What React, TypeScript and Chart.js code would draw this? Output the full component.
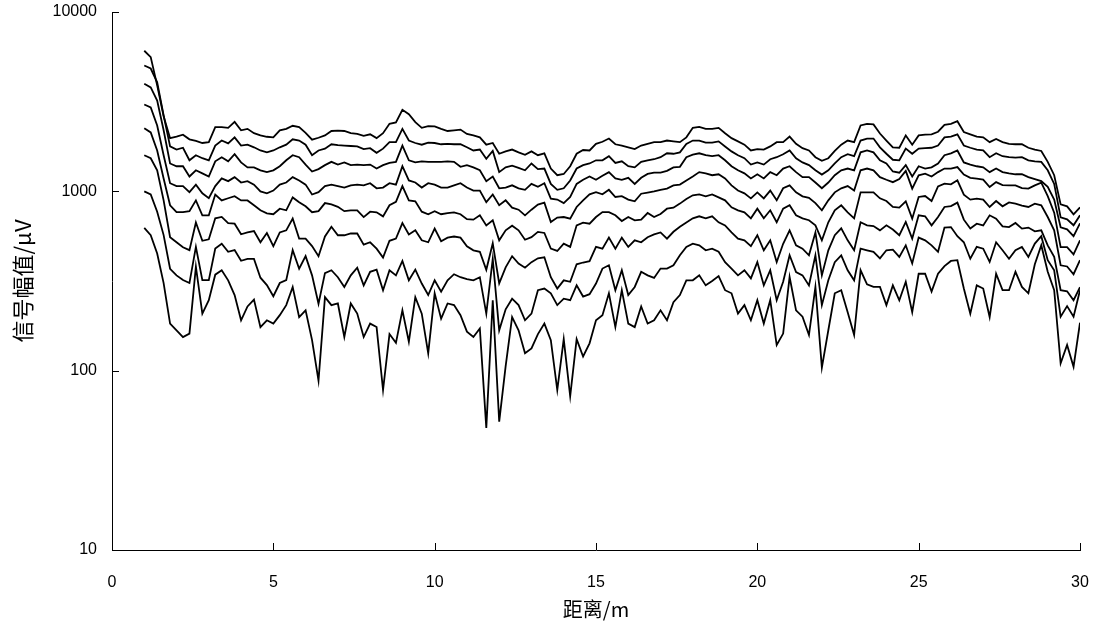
import React, { useEffect, useRef } from "react";
import { Chart, registerables } from "chart.js";

Chart.register(...registerables);

// Sampling grid along the survey line (m)
const FIRST_DISTANCE = 1;
const DISTANCE_STEP = 0.2;

const X_TICKS = [0, 5, 10, 15, 20, 25, 30];
const Y_TICKS = [10, 100, 1000, 10000];

// Signal amplitude (μV) for each receiver channel, strongest first
const SIGNAL_1 = [
  6080, 5600, 3900, 2620, 1980, 2020, 2070, 1950, 1910, 1860,
  1880, 2280, 2280, 2260, 2440, 2190, 2230, 2110, 2050, 2015,
  2000, 2190, 2230, 2320, 2280, 2120, 1940, 1990, 2050, 2170,
  2180, 2170, 2110, 2090, 2040, 2080, 1980, 2110, 2380, 2420,
  2850, 2690, 2430, 2260, 2310, 2300, 2230, 2170, 2190, 2210,
  2090, 2050, 2000, 1820, 1860, 1620, 1670, 1710, 1650, 1600,
  1670, 1590, 1630, 1340, 1230, 1250, 1380, 1620, 1700, 1690,
  1840, 1890, 1970, 1830, 1800, 1760, 1720, 1800, 1840, 1880,
  1880, 1920, 1900, 1880, 2000, 2260, 2290, 2230, 2230, 2260,
  2110, 1980, 1900, 1820, 1690, 1720, 1710, 1780, 1880, 1880,
  2020, 1840, 1740, 1690, 1550, 1480, 1530, 1680, 1820, 1920,
  1880, 2330, 2380, 2360, 2100, 1920, 1760, 1750, 2050, 1820,
  2050, 2070, 2080, 2150, 2350, 2380, 2460, 2140, 2080, 2020,
  2000, 1880, 1960, 1880, 1840, 1830, 1830, 1750, 1710, 1680,
  1460, 1230, 846, 825, 744, 814,
];

const SIGNAL_2 = [
  5030, 4840, 4050, 2650, 1780, 1710, 1750, 1490, 1590, 1530,
  1490, 1800, 1920, 1850, 2000, 1800, 1820, 1760, 1690, 1650,
  1690, 1760, 1820, 1950, 1920, 1820, 1590, 1690, 1730, 1830,
  1810, 1800, 1790, 1780, 1720, 1740, 1640, 1730, 1880, 1880,
  2230, 1920, 1860, 1820, 1870, 1860, 1830, 1840, 1830, 1830,
  1760, 1690, 1710, 1520, 1680, 1280, 1360, 1390, 1350, 1310,
  1430, 1330, 1340, 1100, 1020, 1040, 1150, 1340, 1400, 1430,
  1490, 1490, 1570, 1440, 1470, 1380, 1360, 1460, 1490, 1510,
  1550, 1630, 1620, 1650, 1840, 1920, 1920, 1870, 1870, 1900,
  1780, 1670, 1590, 1530, 1410, 1450, 1410, 1510, 1550, 1610,
  1690, 1530, 1450, 1400, 1310, 1240, 1310, 1430, 1550, 1610,
  1570, 1920, 1970, 1970, 1760, 1620, 1500, 1490, 1730, 1620,
  1730, 1740, 1750, 1800, 2000, 2020, 2080, 1800, 1750, 1710,
  1690, 1550, 1630, 1570, 1550, 1540, 1550, 1490, 1470, 1460,
  1310, 1100, 716, 698, 647, 735,
];

const SIGNAL_3 = [
  3980, 3800, 3210, 2190, 1430, 1380, 1380, 1210, 1310, 1260,
  1210, 1470, 1550, 1470, 1610, 1450, 1360, 1360, 1310, 1280,
  1310, 1380, 1490, 1590, 1550, 1410, 1290, 1330, 1400, 1460,
  1410, 1450, 1400, 1410, 1400, 1410, 1340, 1400, 1440, 1460,
  1800, 1490, 1450, 1470, 1460, 1460, 1460, 1470, 1460, 1370,
  1400, 1360, 1310, 1140, 1210, 1040, 1050, 1080, 1040, 1020,
  1100, 1060, 1110, 910, 900, 860, 930, 1100, 1160, 1210,
  1160, 1220, 1280, 1180, 1160, 1190, 1100, 1190, 1250, 1270,
  1270, 1300, 1360, 1370, 1550, 1600, 1630, 1590, 1570, 1590,
  1490, 1380, 1310, 1260, 1180, 1245, 1180, 1280, 1230, 1340,
  1380, 1280, 1200, 1200, 1120, 1040, 1120, 1230, 1310, 1340,
  1310, 1650, 1690, 1650, 1490, 1430, 1290, 1270, 1400, 1210,
  1380, 1340, 1360, 1430, 1590, 1630, 1690, 1450, 1410, 1380,
  1360, 1280, 1340, 1280, 1260, 1245, 1245, 1200, 1170, 1140,
  1060, 900, 630, 614, 562, 663,
];

const SIGNAL_4 = [
  3050, 2940, 2330, 1590, 1110, 1070, 1070, 990, 1090, 975,
  915, 1070, 1180, 1140, 1200, 1120, 1140, 1090, 1000, 975,
  1010, 1090, 1120, 1200, 1150, 1090, 960, 990, 1070, 1090,
  1070, 1050, 1080, 1090, 1080, 1110, 1040, 1050, 1110, 1090,
  1380, 1150, 1120, 1050, 1110, 1090, 1050, 1050, 1080, 1110,
  1050, 1010, 1010, 870, 960, 836, 891, 811, 790, 735,
  790, 843, 865, 674, 714, 719, 704, 818, 891, 962,
  990, 962, 1020, 930, 940, 900, 880, 970, 985, 1000,
  1020, 1035, 1080, 1090, 1150, 1210, 1280, 1260, 1230, 1245,
  1180, 1080, 1010, 975, 914, 987, 914, 1010, 891, 1040,
  1080, 987, 938, 920, 860, 784, 891, 987, 1040, 1070,
  1010, 1310, 1340, 1310, 1200, 1160, 1125, 1170, 1300, 1035,
  1228, 1256, 1210, 1280, 1340, 1340, 1366, 1240, 1190, 1177,
  1162, 1057, 1126, 1084, 1080, 1080, 1043, 1035, 1080, 1117,
  940, 760, 488, 488, 445, 533,
];

const SIGNAL_5 = [
  2245, 2130, 1690, 1180, 836, 765, 765, 775, 890, 735,
  735, 960, 890, 915, 940, 890, 890, 836, 784, 754,
  745, 800, 784, 925, 870, 825, 765, 775, 860, 846,
  820, 775, 784, 784, 718, 770, 764, 725, 836, 873,
  1070, 891, 880, 770, 745, 775, 745, 755, 764, 745,
  700, 695, 735, 646, 689, 533, 606, 643, 606, 537,
  555, 594, 586, 479, 465, 511, 490, 646, 669, 660,
  719, 766, 766, 735, 683, 719, 689, 695, 757, 719,
  748, 800, 811, 854, 906, 950, 962, 938, 962, 926,
  891, 814, 784, 764, 707, 800, 707, 784, 672, 800,
  836, 735, 707, 690, 646, 533, 672, 784, 836, 764,
  707, 987, 987, 987, 914, 883, 818, 811, 880, 704,
  930, 942, 883, 1066, 1104, 1094, 1152, 958, 899, 910,
  899, 818, 883, 825, 868, 854, 832, 818, 854, 836,
  719, 606, 387, 381, 345, 413,
];

const SIGNAL_6 = [
  1590, 1530, 1310, 890, 555, 520, 488, 470, 670, 530,
  540, 707, 720, 664, 660, 576, 590, 600, 520, 585,
  495, 590, 606, 705, 545, 545, 495, 435, 560, 635,
  569, 569, 582, 582, 504, 520, 479, 427, 530, 545,
  665, 575, 606, 533, 520, 620, 527, 552, 560, 552,
  494, 469, 460, 365, 513, 307, 377, 435, 396, 375,
  403, 423, 429, 332, 287, 319, 313, 392, 401, 408,
  490, 479, 552, 479, 552, 490, 533, 520, 555, 575,
  590, 545, 595, 635, 670, 707, 726, 707, 726, 672,
  646, 590, 545, 533, 495, 569, 469, 533, 403, 510,
  606, 500, 479, 440, 590, 340, 469, 569, 622, 533,
  469, 672, 646, 640, 606, 646, 612, 569, 675, 545,
  735, 726, 646, 719, 818, 827, 865, 695, 620, 660,
  646, 735, 704, 638, 632, 666, 620, 628, 598, 606,
  500, 431, 281, 277, 247, 292,
];

const SIGNAL_7 = [
  1000, 960, 770, 570, 370, 340, 320, 308, 490, 320,
  320, 480, 510, 460, 470, 410, 420, 420, 330, 300,
  260, 308, 320, 470, 370, 435, 340, 236, 350, 363,
  332, 293, 340, 375, 299, 356, 366, 281, 363, 340,
  409, 319, 366, 306, 264, 319, 276, 319, 345, 332,
  324, 319, 332, 208, 420, 168, 220, 252, 232, 191,
  208, 281, 287, 270, 232, 252, 247, 299, 259, 267,
  306, 371, 387, 281, 363, 264, 293, 356, 340, 329,
  371, 371, 387, 440, 490, 511, 500, 469, 479, 460,
  403, 371, 340, 363, 327, 403, 299, 363, 247, 313,
  440, 355, 340, 299, 440, 232, 319, 403, 440, 363,
  319, 479, 469, 460, 423, 469, 473, 431, 500, 396,
  552, 533, 500, 460, 628, 632, 562, 520, 421, 490,
  479, 404, 520, 469, 421, 469, 490, 431, 511, 562,
  413, 363, 200, 229, 200, 281,
];

const SIGNAL_8 = [
  625, 570, 450, 308, 183, 168, 154, 161, 380, 208,
  247, 343, 363, 319, 264, 191, 228, 249, 175, 191,
  183, 204, 232, 293, 199, 217, 148, 88, 257, 232,
  237, 154, 237, 208, 154, 183, 175, 78, 160, 143,
  217, 145, 257, 208, 125, 270, 195, 237, 232, 204,
  165, 154, 172, 48, 247, 52, 106, 199, 168, 125,
  133, 160, 183, 148, 78, 150, 72, 150, 120, 142,
  191, 204, 270, 175, 281, 183, 175, 228, 183, 191,
  217, 191, 241, 264, 319, 319, 340, 299, 316, 337,
  281, 270, 208, 232, 191, 247, 183, 247, 139, 161,
  333, 217, 200, 158, 293, 104, 168, 270, 281, 212,
  158, 363, 303, 293, 293, 232, 299, 247, 313, 212,
  347, 347, 276, 347, 383, 409, 413, 287, 208, 299,
  287, 199, 347, 281, 281, 356, 293, 270, 392, 500,
  356, 281, 110, 139, 105, 185,
];

const SIGNALS = [SIGNAL_1, SIGNAL_2, SIGNAL_3, SIGNAL_4, SIGNAL_5, SIGNAL_6, SIGNAL_7, SIGNAL_8];

const TICK_FONT = { family: "'Liberation Sans', Arial, sans-serif", size: 16 };
const X_TITLE_FONT = { family: "'Noto Sans CJK SC', sans-serif", size: 20 };
const Y_TITLE_FONT = { family: "'Noto Sans CJK SC', sans-serif", size: 22 };

// Short tick marks that point into the plot area
const inwardTicks = {
  id: "inwardTicks",
  afterDraw(chart: any) {
    const { ctx, chartArea, scales } = chart;
    const len = 7;
    ctx.save();
    ctx.strokeStyle = "#000";
    ctx.lineWidth = 1;
    for (const v of X_TICKS) {
      const px = Math.round(scales.x.getPixelForValue(v)) + 0.5;
      ctx.beginPath();
      ctx.moveTo(px, chartArea.bottom);
      ctx.lineTo(px, chartArea.bottom - len);
      ctx.stroke();
    }
    for (const v of Y_TICKS) {
      const py = Math.round(scales.y.getPixelForValue(v)) + 0.5;
      ctx.beginPath();
      ctx.moveTo(chartArea.left, py);
      ctx.lineTo(chartArea.left + len, py);
      ctx.stroke();
    }
    ctx.restore();
  },
};

export default function App() {
  const canvasRef = useRef<HTMLCanvasElement>(null);

  useEffect(() => {
    const canvas = canvasRef.current;
    if (!canvas) return;
    const distances = SIGNAL_1.map((_, i) => +(FIRST_DISTANCE + i * DISTANCE_STEP).toFixed(1));

    const chart = new Chart(canvas, {
      type: "line",
      data: {
        datasets: SIGNALS.map((series, k) => ({
          label: `通道${k + 1}`,
          data: series.map((v, i) => ({ x: distances[i], y: v })),
          borderColor: "#000",
          borderWidth: 1.8,
          pointRadius: 0,
          fill: false,
          tension: 0,
        })),
      },
      options: {
        animation: false,
        responsive: true,
        maintainAspectRatio: false,
        layout: { padding: { top: 12, right: 13, bottom: 0, left: 0 } },
        plugins: { legend: { display: false }, tooltip: { enabled: false } },
        scales: {
          x: {
            type: "linear",
            min: 0,
            max: 30,
            afterBuildTicks: (s: any) => {
              s.ticks = X_TICKS.map((v) => ({ value: v }));
            },
            afterFit: (s: any) => {
              s.height = 76;
            },
            // tick marks are drawn by the plugin; the hidden tick length only spaces the labels
            grid: { display: false, drawTicks: true, tickLength: 23 },
            border: { display: true, color: "#000", width: 1 },
            ticks: { color: "#000", font: TICK_FONT, padding: 0, maxRotation: 0, autoSkip: false },
            title: {
              display: true,
              text: "距离/m",
              color: "#000",
              font: X_TITLE_FONT,
              padding: { top: 0, bottom: 5 },
            },
          },
          y: {
            type: "logarithmic",
            min: 10,
            max: 10000,
            afterBuildTicks: (s: any) => {
              s.ticks = Y_TICKS.map((v) => ({ value: v }));
            },
            afterFit: (s: any) => {
              s.width = 112;
            },
            grid: { display: false, drawTicks: true, tickLength: 15 },
            border: { display: true, color: "#000", width: 1 },
            ticks: {
              color: "#000",
              font: TICK_FONT,
              padding: 0,
              autoSkip: false,
              callback: (v: any) => String(v),
            },
            title: {
              display: true,
              text: "信号幅值/μV",
              color: "#000",
              font: Y_TITLE_FONT,
              padding: { top: 9, bottom: 0 },
            },
          },
        },
      },
      plugins: [inwardTicks],
    } as any);

    return () => chart.destroy();
  }, []);

  return (
    <div style={{ position: "fixed", left: 0, top: 0, width: "1093px", height: "626px", background: "#fff" }}>
      <canvas ref={canvasRef} />
    </div>
  );
}
